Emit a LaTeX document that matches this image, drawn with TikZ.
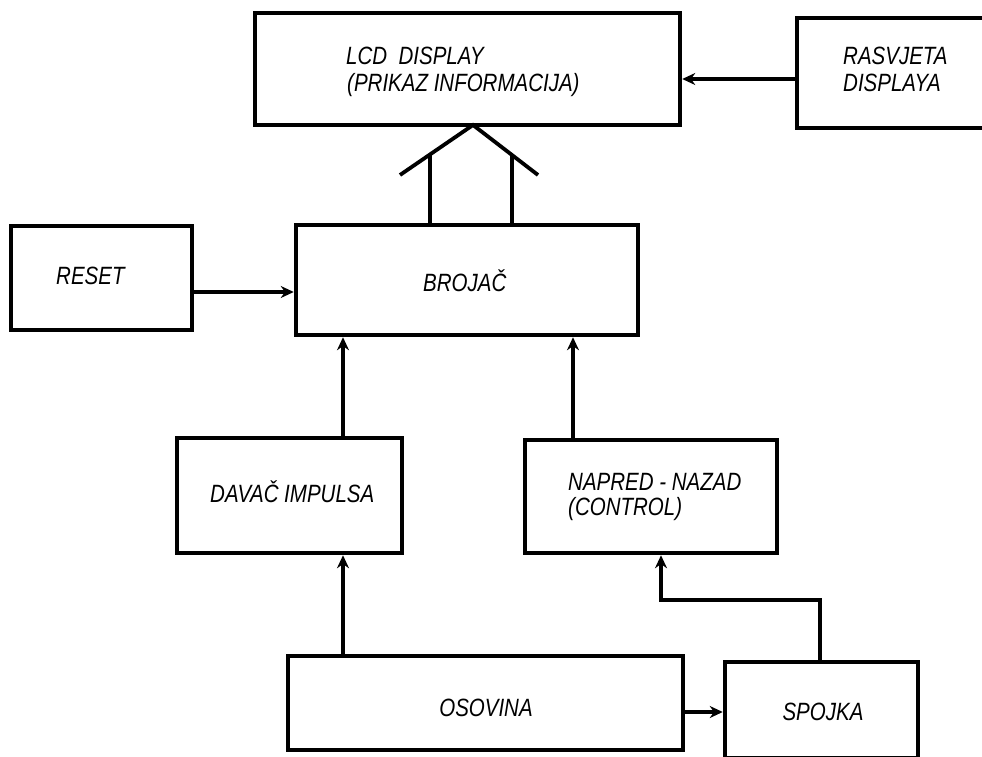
\documentclass[tikz,border=0pt]{standalone}
\usepackage{fontspec}
\setmainfont{Liberation Sans}[FakeStretch=0.82]
\usetikzlibrary{arrows.meta}
\begin{document}
\begin{tikzpicture}[x=1pt,y=-1pt,
  box/.style={draw, line width=4.5pt, rectangle, inner sep=0pt},
  conn/.style={line width=3.8pt},
  arr/.style={conn, -{Stealth[length=13pt,width=12pt]}},
  lbl/.style={font=\itshape\fontsize{25}{29}\selectfont, anchor=base west, inner sep=0pt},
  clbl/.style={font=\itshape\fontsize{25}{29}\selectfont, anchor=base, inner sep=0pt}]
\useasboundingbox (0,0) rectangle (982,757);
\clip (0,0) rectangle (982,757);
% boxes
\node[box, minimum width=425pt, minimum height=112pt] (lcd) at (467.5,69) {};
\node[box, minimum width=203pt, minimum height=110pt] (ras) at (898.5,73) {};
\node[box, minimum width=342pt, minimum height=110pt] (brojac) at (467,280) {};
\node[box, minimum width=181pt, minimum height=104pt] (reset) at (101.5,278) {};
\node[box, minimum width=225pt, minimum height=115pt] (davac) at (289.5,495.5) {};
\node[box, minimum width=252pt, minimum height=113pt] (napred) at (651,496.5) {};
\node[box, minimum width=395pt, minimum height=94pt] (osovina) at (485.5,703) {};
\node[box, minimum width=193pt, minimum height=96pt] (spojka) at (821.5,710) {};
% labels
\node[lbl] (lcdA) at (346,65) {LCD\ \ DISPLAY};
\node[lbl] (lcdB) at (347,92) {(PRIKAZ INFORMACIJA)};
\node[lbl] (rasA) at (843,65) {RASVJETA};
\node[lbl] (rasB) at (843,92) {DISPLAYA};
\node[lbl] (resetT) at (56,284) {RESET};
\node[lbl] (brojacT) at (423,291) {BROJAČ};
\node[lbl] (davacT) at (210,502) {DAVAČ IMPULSA};
\node[lbl] (napredA) at (568,490) {NAPRED - NAZAD};
\node[lbl] (napredB) at (568,515) {(CONTROL)};
\node[clbl] (osovinaT) at (486,716) {OSOVINA};
\node[clbl] (spojkaT) at (823,720) {SPOJKA};
% helper coordinates
\coordinate (yras) at (0,79);
\coordinate (yres) at (0,292);
\coordinate (yos) at (0,712);
\coordinate (xd) at (343,0);
\coordinate (xn) at (573,0);
\coordinate (xs) at (820,0);
\coordinate (bend1) at (820,600);
\coordinate (bend2) at (661,600);
\coordinate (apex) at (473,125);
\coordinate (roofL) at (400,175);
\coordinate (roofR) at (538,175);
\coordinate (vl) at (430,154);
\coordinate (vr) at (512,154);
% connectors
\draw[arr] (ras.west |- yras) -- (lcd.east |- yras);
\draw[arr] (reset.east |- yres) -- (brojac.west |- yres);
\draw[arr] (davac.north -| xd) -- (brojac.south -| xd);
\draw[arr] (napred.north -| xn) -- (brojac.south -| xn);
\draw[arr] (osovina.north -| xd) -- (davac.south -| xd);
\draw[arr] (osovina.east |- yos) -- (spojka.west |- yos);
\draw[arr] (spojka.north -| xs) -- (bend1) -- (bend2) -- (napred.south -| bend2);
% wide bus arrow to display
\draw[conn] (roofL) -- (apex) -- (roofR);
\draw[conn] (brojac.north -| vl) -- (vl);
\draw[conn] (brojac.north -| vr) -- (vr);
\end{tikzpicture}
\end{document}
